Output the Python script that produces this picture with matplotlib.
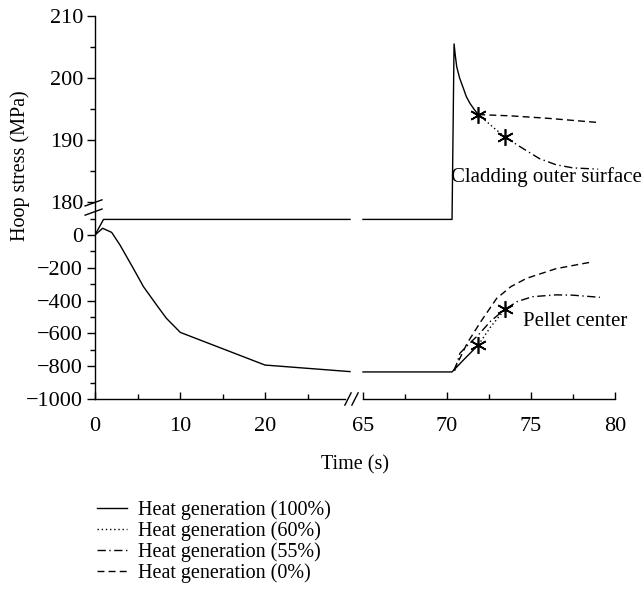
import matplotlib

matplotlib.use("Agg")
import matplotlib.pyplot as plt
from matplotlib.lines import Line2D
import numpy as np

plt.rcParams["font.family"] = ["Liberation Serif", "DejaVu Serif"]
plt.rcParams["font.size"] = 14

# --- data ---------------------------------------------------------------
# cladding outer surface, before the x break
clad_left_t = [0, 1.0, 30]
clad_left_s = [0, 95, 95]
# cladding, full heat generation until the first marker
clad_full_t = [65, 70.3, 70.42, 70.5, 70.58, 70.75, 70.98, 71.15, 71.37, 71.6, 71.86]
clad_full_s = [95, 95, 205.5, 203.5, 201.8, 200.0, 198.3, 197.0, 195.9, 195.0, 194.1]
clad_60_t = [71.86, 72.3, 72.9, 73.45]
clad_60_s = [194.1, 193.1, 191.7, 190.5]
clad_55_t = [73.45, 74.3, 75.5, 76.5, 77.5, 79.0]
clad_55_s = [190.5, 189.0, 187.0, 186.0, 185.5, 185.3]
clad_0_t = [71.86, 73.75, 76.0, 79.1]
clad_0_s = [194.1, 193.9, 193.5, 192.8]

# pellet center
pel_left_t = [0, 0.9, 1.96, 2.94, 4.5, 5.7, 7.25, 8.4, 10.04, 20, 30]
pel_left_s = [0, 41, 16, -61, -203, -315, -427, -508, -594, -793, -833]
pel_full_t = [65, 70.3, 71.0, 71.86]
pel_full_s = [-835, -835, -760, -671]
pel_60_t = [71.86, 72.6, 73.45]
pel_60_s = [-671, -560, -453]
pel_55_t = [70.45, 70.77, 71.3, 71.86, 72.6, 73.45, 74.2, 75.1, 76.5, 77.5, 79.1]
pel_55_s = [-828, -721, -665, -610, -525, -453, -405, -376, -365, -367, -380]
pel_0_t = [70.4, 70.8, 71.2, 72.0, 72.96, 73.8, 74.74, 76.5, 78.7]
pel_0_s = [-825, -745, -660, -530, -386, -315, -264, -205, -163]

# switch markers
mark_t = [71.86, 73.45]
mark_clad = [194.1, 190.5]
mark_pel = [-671, -453]

labels = [
    "Heat generation (100%)",
    "Heat generation (60%)",
    "Heat generation (55%)",
    "Heat generation (0%)",
]

x_ticks = [0, 10, 20, 65, 70, 75, 80]
x_minor = [5, 15, 25, 67.5, 72.5, 77.5]
y_ticks = [-1000, -800, -600, -400, -200, 0, 180, 190, 200, 210]
y_minor = [-900, -700, -500, -300, -100, 100, 185, 195, 205]


def piecewise(xp, fp):
    xp = np.asarray(xp, float)
    fp = np.asarray(fp, float)
    lo_slope = (fp[1] - fp[0]) / (xp[1] - xp[0])
    hi_slope = (fp[-1] - fp[-2]) / (xp[-1] - xp[-2])

    def f(v):
        v = np.asarray(v, float)
        out = np.interp(v, xp, fp)
        out = np.where(v < xp[0], fp[0] + (v - xp[0]) * lo_slope, out)
        out = np.where(v > xp[-1], fp[-1] + (v - xp[-1]) * hi_slope, out)
        return out

    return f


# broken axes done with piecewise-linear scales
x_knots, x_pix = [0, 30, 65, 80], [0, 255, 268, 520]
y_knots, y_pix = [-1000, 150, 180, 210], [0, 188.6, 197, 383]

fig = plt.figure(figsize=(6.43, 5.95), dpi=100)
ax = fig.add_axes([95 / 643, 196 / 595, 520 / 643, 383 / 595])
ax.set_xscale("function", functions=(piecewise(x_knots, x_pix), piecewise(x_pix, x_knots)))
ax.set_yscale("function", functions=(piecewise(y_knots, y_pix), piecewise(y_pix, y_knots)))
ax.set_xlim(0, 80)
ax.set_ylim(-1000, 210)

lw = 1.0
styles = {
    "full": dict(color="black", lw=lw, ls="-"),
    "60": dict(color="black", lw=lw, ls=(0, (1, 2))),
    "55": dict(color="black", lw=lw, ls=(0, (6, 2.5, 1, 2.5))),
    "0": dict(color="black", lw=lw, ls=(0, (5, 3))),
}

ax.plot(clad_left_t, clad_left_s, **styles["full"])
ax.plot(clad_full_t, clad_full_s, **styles["full"])
ax.plot(clad_60_t, clad_60_s, **styles["60"])
ax.plot(clad_55_t, clad_55_s, **styles["55"])
ax.plot(clad_0_t, clad_0_s, **styles["0"])

ax.plot(pel_left_t, pel_left_s, **styles["full"])
ax.plot(pel_full_t, pel_full_s, **styles["full"])
ax.plot(pel_60_t, pel_60_s, **styles["60"])
ax.plot(pel_55_t, pel_55_s, **styles["55"])
ax.plot(pel_0_t, pel_0_s, **styles["0"])

for ys in (mark_clad, mark_pel):
    ax.plot(mark_t, ys, ls="none", marker=(6, 2, 0), ms=12, mec="black", mew=1.2)

ax.text(70.25, 184.0, "Cladding outer surface", ha="left", va="center", fontsize=15, clip_on=False)
ax.text(74.5, -530, "Pellet center", ha="left", va="center", fontsize=15)

# axes and ticks
for side in ("top", "right", "bottom"):
    ax.spines[side].set_visible(False)
ax.spines["left"].set_linewidth(1.0)
ax.set_xticks(x_ticks)
ax.set_xticks(x_minor, minor=True)
ax.set_yticks(y_ticks)
ax.set_yticks(y_minor, minor=True)
ax.set_xticklabels([str(t) for t in x_ticks])
ax.set_yticklabels([f"{t}".replace("-", "\u2212") for t in y_ticks])
ax.tick_params(axis="x", which="major", direction="in", length=5, width=1.0, pad=13, labelsize=16)
ax.tick_params(axis="x", which="minor", direction="in", length=3.5, width=1.0)
ax.tick_params(axis="y", which="major", direction="out", length=5.5, width=1.0, pad=3, labelsize=16)
ax.tick_params(axis="y", which="minor", direction="out", length=3.5, width=1.0)

# bottom spine in two pieces, with break marks
xt = ax.get_xaxis_transform()
ax.plot([0, 29.4], [0, 0], color="black", lw=1.0, transform=xt, clip_on=False)
ax.plot([65, 80], [0, 0], color="black", lw=1.0, transform=xt, clip_on=False)
for cx in (0.4865, 0.500):
    ax.plot([cx - 0.006, cx + 0.006], [-0.016, 0.016], color="black", lw=1.0,
            transform=ax.transAxes, clip_on=False)
for cy in (0.488, 0.512):
    ax.plot([-0.019, 0.0135], [cy - 0.008, cy + 0.008], color="black", lw=1.0,
            transform=ax.transAxes, clip_on=False)

ax.set_xlabel("Time (s)", fontsize=14.5, labelpad=14)
ax.set_ylabel("Hoop stress (MPa)", fontsize=14.5)
ax.yaxis.set_label_coords(-0.125, 0.61)

handles = [Line2D([], [], **styles[k]) for k in ("full", "60", "55", "0")]
fig.legend(handles, labels, loc="upper left", bbox_to_anchor=(97 / 643, 1 - 500 / 595),
           frameon=False, fontsize=14.5, handlelength=1.5, handletextpad=0.55,
           labelspacing=0.07, borderpad=0, borderaxespad=0)

fig.savefig("out.png", dpi=100)
